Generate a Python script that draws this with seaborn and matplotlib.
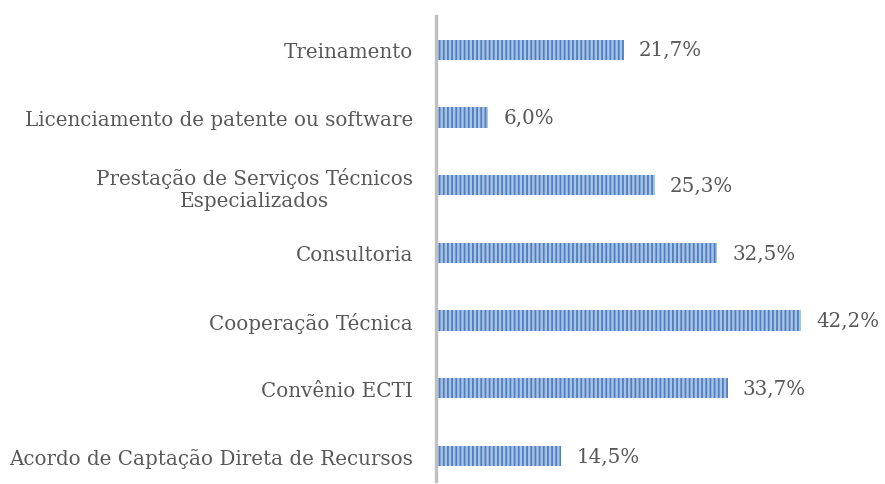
import matplotlib
matplotlib.use("Agg")
import matplotlib.pyplot as plt
import seaborn as sns
import pandas as pd

categories = [
    "Treinamento",
    "Licenciamento de patente ou software",
    "Prestação de Serviços Técnicos\nEspecializados",
    "Consultoria",
    "Cooperação Técnica",
    "Convênio ECTI",
    "Acordo de Captação Direta de Recursos",
]
values = [21.7, 6.0, 25.3, 32.5, 42.2, 33.7, 14.5]
labels = ["21,7%", "6,0%", "25,3%", "32,5%", "42,2%", "33,7%", "14,5%"]

df = pd.DataFrame({"cat": categories, "val": values})

sns.set_style("white")
plt.rcParams["font.family"] = ["DejaVu Serif"]
plt.rcParams["hatch.linewidth"] = 1.3
plt.rcParams["hatch.color"] = "#4f7fbf"

fig = plt.figure(figsize=(8.85, 4.85), dpi=100)
ax = fig.add_axes([0.4927, 0.006, 0.5073, 0.959])

sns.barplot(data=df, x="val", y="cat", orient="h", color="#a9c3e6",
            width=0.30, ax=ax, saturation=1)
for p in ax.patches:
    p.set_hatch("||||")
    p.set_edgecolor("#4f7fbf")
    p.set_linewidth(0)

for i, (v, lab) in enumerate(zip(values, labels)):
    ax.annotate(lab, xy=(v, i), xytext=(11, 0), textcoords="offset points",
                ha="left", va="center", fontsize=14.3, color="#595959")

ax.set_xlim(0, 51.9)
ax.set_ylim(6.37, -0.50)
ax.set_xlabel("")
ax.set_ylabel("")
ax.set_xticks([])
for s in ["top", "right", "bottom"]:
    ax.spines[s].set_visible(False)
ax.spines["left"].set_color("#bfbfbf")
ax.spines["left"].set_linewidth(2.4)
ax.tick_params(axis="y", length=0, pad=16.5, labelsize=14.3, labelcolor="#595959")
for t in ax.get_yticklabels():
    t.set_multialignment("center")

fig.savefig("out.png", dpi=100)
